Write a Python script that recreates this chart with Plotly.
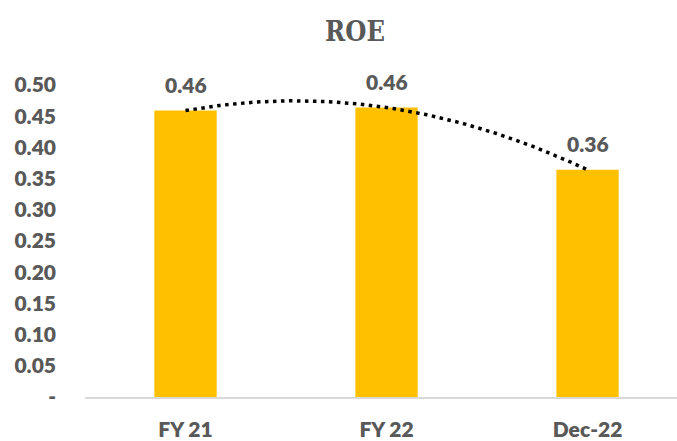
import numpy as np
import plotly.graph_objects as go

# ROE by period
categories = ["FY 21", "FY 22", "Dec-22"]
roe = [0.459, 0.464, 0.364]
y_tick_vals = [0, 0.05, 0.10, 0.15, 0.20, 0.25, 0.30, 0.35, 0.40, 0.45, 0.50]
y_tick_text = ["-", "0.05", "0.10", "0.15", "0.20", "0.25", "0.30", "0.35", "0.40", "0.45", "0.50"]

GREY = "#595959"
GOLD = "#FFC000"
LABEL_FONT = dict(family="Lato, Carlito, sans-serif", size=21, color=GREY, weight=800)

x_pos = list(range(len(categories)))

# second-order polynomial trendline through the series
coef = np.polyfit(x_pos, roe, 2)
xs = np.linspace(x_pos[0], x_pos[-1], 200)
ys = np.polyval(coef, xs)

fig = go.Figure()
fig.add_trace(go.Bar(
    x=x_pos, y=roe, width=0.31,
    marker=dict(color=GOLD, line=dict(width=0)),
    hoverinfo="skip", showlegend=False,
))
fig.add_trace(go.Scatter(
    x=xs, y=ys, mode="lines",
    line=dict(color="black", width=3.5, dash="3.5px,4.5px"),
    hoverinfo="skip", showlegend=False,
))

for xi, v in zip(x_pos, roe):
    fig.add_annotation(
        x=xi, y=v, text=f"{v:.2f}", showarrow=False,
        yshift=26, font=LABEL_FONT,
    )

fig.update_layout(
    width=677, height=441,
    margin=dict(l=85, r=0, t=85, b=38),
    paper_bgcolor="white", plot_bgcolor="white",
    title=dict(
        text="<b>ROE</b>", x=355 / 677, xanchor="center", y=1 - 32 / 441, yanchor="middle",
        font=dict(family="DejaVu Serif Condensed, Liberation Serif, serif", size=27, color=GREY),
    ),
    xaxis=dict(
        range=[-0.5, 2.445], tickvals=x_pos, ticktext=categories,
        showgrid=False, zeroline=False, showline=True, linecolor="#D9D9D9", linewidth=1.5,
        ticks="", tickfont=LABEL_FONT, ticklabelstandoff=13,
    ),
    yaxis=dict(
        range=[0, 0.5], tickvals=y_tick_vals, ticktext=y_tick_text,
        showgrid=False, zeroline=False, showline=False, ticks="",
        tickfont=LABEL_FONT, ticklabelstandoff=28,
    ),
)

fig.write_html("out.html")
